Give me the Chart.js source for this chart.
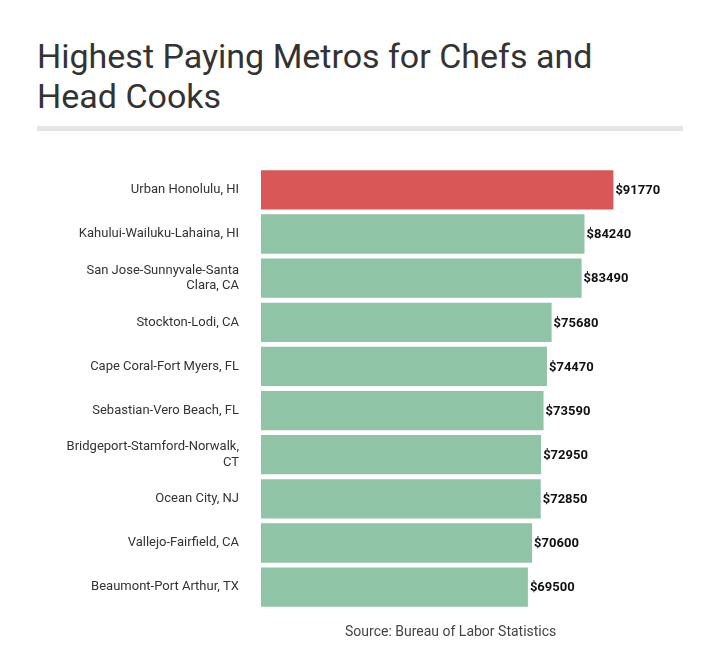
<!DOCTYPE html>
<html><head><meta charset="utf-8">
<script src="https://cdn.jsdelivr.net/npm/chart.js@4"></script>
<style>
body{margin:0;width:720px;height:653px;background:#fff;font-family:Roboto,"Open Sans",sans-serif;position:relative;overflow:hidden}
#t{position:absolute;left:37px;top:36px;font-size:34px;line-height:40px;color:#333;font-weight:400;width:625px}
#rule{position:absolute;left:37px;top:126px;width:646px;height:5px;background:#e5e5e5}
#c{position:absolute;left:0;top:146px;width:720px;height:485px}
#s{position:absolute;left:345px;top:623px;font-size:14px;color:#444}
</style></head><body>
<div id="t">Highest Paying Metros for Chefs and Head Cooks</div>
<div id="rule"></div>
<div id="c"><canvas id="cv"></canvas></div>
<div id="s">Source: Bureau of Labor Statistics</div>
<script>
const categories=["Urban Honolulu, HI","Kahului-Wailuku-Lahaina, HI",["San Jose-Sunnyvale-Santa","Clara, CA"],"Stockton-Lodi, CA","Cape Coral-Fort Myers, FL","Sebastian-Vero Beach, FL",["Bridgeport-Stamford-Norwalk,","CT"],"Ocean City, NJ","Vallejo-Fairfield, CA","Beaumont-Port Arthur, TX"];
const wages=[91770,84240,83490,75680,74470,73590,72950,72850,70600,69500];
const colors=wages.map((v,i)=>i===0?"#d95757":"#8fc4a6");
const valLabels={id:"vl",afterDatasetsDraw(ch){const ctx=ch.ctx;ctx.save();ctx.font="bold 13px Roboto";ctx.fillStyle="#111";ctx.textBaseline="middle";
ch.getDatasetMeta(0).data.forEach((b,i)=>{ctx.fillText("$"+wages[i],b.x+2,b.y+1);});ctx.restore();}};
new Chart(document.getElementById("cv"),{type:"bar",data:{labels:categories,datasets:[{data:wages,backgroundColor:colors,barPercentage:0.89,categoryPercentage:1}]},
options:{indexAxis:"y",responsive:true,maintainAspectRatio:false,animation:false,layout:{padding:{right:75,top:0,bottom:0,left:0}},
plugins:{legend:{display:false},tooltip:{enabled:false}},
scales:{x:{display:false,min:0,max:100000},y:{grid:{display:false},border:{display:false},afterFit(a){a.width=261;},ticks:{padding:14,color:"#333",font:{family:"Roboto",size:13}}}}},plugins:[valLabels]});
</script></body></html>
